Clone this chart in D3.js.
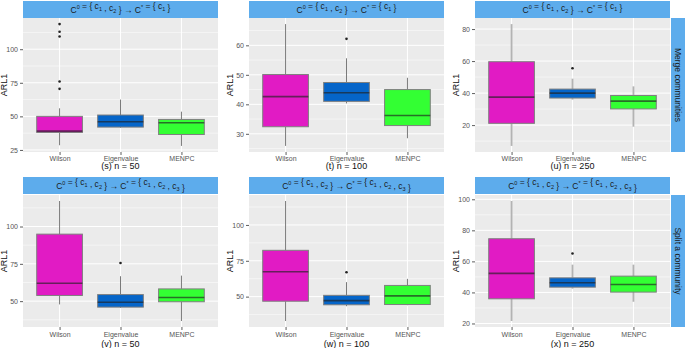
<!DOCTYPE html>
<html>
<head>
<meta charset="utf-8">
<title>ARL1 boxplots</title>
<script src="https://cdn.jsdelivr.net/npm/d3@7/dist/d3.min.js"></script>
<style>
  body { margin: 0; background: #fff; }
  svg text { font-family: "Liberation Sans", Arial, sans-serif; }
</style>
</head>
<body>
<svg id="chart"></svg>
<script>
// categories + labels
var methods = ['Wilson', 'Eigenvalue', 'MENPC'];
var panelLabels = ['(s) n = 50', '(t) n = 100', '(u) n = 250', '(v) n = 50', '(w) n = 100', '(x) n = 250'];
var rowLabels = ['Merge communities', 'Split a community'];
var targetSets = [['1'], ['1', '2', '3']];

// box stats per panel: [lower whisker, q1, median, q3, upper whisker]
var wilsonStats = [[28.5, 38, 39, 50, 56], [25.9, 32.4, 42.6, 50.1, 67.2], [7, 21.1, 37.5, 59.6, 83.1],
                   [47.8, 53.8, 62, 94.9, 117.1], [33, 46.8, 67.4, 82.3, 116.7], [21.6, 35.9, 52.3, 74.6, 98.9]];
var eigenStats = [[41.5, 42, 46, 51, 62.5], [40.3, 41, 43.9, 47.4, 55.6], [35.9, 36.9, 40, 42.5, 49],
                  [45.5, 46, 49.3, 54.4, 66.7], [43.3, 44.3, 47.2, 50.9, 60.1], [42.4, 43.4, 46.2, 49.4, 57.9]];
var menpcStats = [[28, 36.5, 45.2, 47.7, 53.5], [28.5, 32.8, 36.2, 45, 49], [19, 30.1, 35, 38.5, 44.2],
                  [36.7, 49.6, 52.4, 58.2, 67.1], [44, 44.5, 50.5, 57.8, 62.4], [34, 40.2, 45.1, 50.5, 57.9]];

// outliers per panel
var wilsonOutliers = [[118.7, 113, 109.5, 76, 70.5], [], [], [], [], []];
var eigenOutliers = [[], [62.2], [55.5], [75.6], [67], [65.1]];
var menpcOutliers = [[], [], [], [], [], []];

// y tick labels per panel
var yTicks = [[25, 50, 75, 100], [30, 40, 50, 60], [20, 40, 60, 80],
              [50, 75, 100], [50, 75, 100], [20, 40, 60, 80, 100]];

var colors = ['#e11bc4', '#0565c9', '#33ff33'];

var W = 685, H = 348;
var cols = [{ x0: 23, x1: 218 }, { x0: 249, x1: 444 }, { x0: 475, x1: 670 }];
var rows = [{ strip: 1, y0: 18, y1: 152, lab: 160.5, sub: 168.5 },
            { strip: 177, y0: 195, y1: 327, lab: 337, sub: 346.5 }];
var stripH = 17;

var svg = d3.select('#chart').attr('width', W).attr('height', H);

var allStats = [wilsonStats, eigenStats, menpcStats];
var allOut = [wilsonOutliers, eigenOutliers, menpcOutliers];

rows.forEach(function (row, ri) {
  cols.forEach(function (col, ci) {
    var p = ri * 3 + ci;
    var g = svg.append('g');

    var boxes = methods.map(function (m, mi) {
      var s = allStats[mi][p];
      return { m: m, i: mi, lw: s[0], q1: s[1], med: s[2], q3: s[3], uw: s[4], out: allOut[mi][p] };
    });

    // ggplot style 5% expansion
    var vals = [];
    boxes.forEach(function (b) { vals.push(b.lw, b.uw); vals = vals.concat(b.out); });
    var lo = d3.min(vals), hi = d3.max(vals), pad = (hi - lo) * 0.05;

    var y = d3.scaleLinear().domain([lo - pad, hi + pad]).range([row.y1, row.y0]);
    var x = d3.scalePoint().domain(methods).range([col.x0, col.x1]).padding(0.6);
    var bw = x.step() * 0.75;

    g.append('rect')
      .attr('x', col.x0).attr('y', row.y0)
      .attr('width', col.x1 - col.x0).attr('height', row.y1 - row.y0)
      .attr('fill', '#ebebeb');

    // minor grid
    var ticks = yTicks[p], step = ticks[1] - ticks[0];
    var minors = [];
    ticks.forEach(function (t) { minors.push(t - step / 2, t + step / 2); });
    minors = Array.from(new Set(minors)).filter(function (v) { return v > y.domain()[0] && v < y.domain()[1]; });
    g.selectAll('.minor').data(minors).enter().append('line')
      .attr('x1', col.x0).attr('x2', col.x1)
      .attr('y1', y).attr('y2', y)
      .attr('stroke', '#fff').attr('stroke-width', 0.5);

    g.selectAll('.major').data(ticks).enter().append('line')
      .attr('x1', col.x0).attr('x2', col.x1)
      .attr('y1', y).attr('y2', y)
      .attr('stroke', '#fff').attr('stroke-width', 1);

    g.selectAll('.vgrid').data(methods).enter().append('line')
      .attr('x1', x).attr('x2', x)
      .attr('y1', row.y0).attr('y2', row.y1)
      .attr('stroke', '#fff').attr('stroke-width', 1);

    // axes
    var yAxis = d3.axisLeft(y).tickValues(ticks).tickSize(3).tickPadding(2);
    var ya = g.append('g').attr('transform', 'translate(' + col.x0 + ',0)').call(yAxis);
    var xAxis = d3.axisBottom(x).tickSize(3).tickPadding(2);
    var xa = g.append('g').attr('transform', 'translate(0,' + row.y1 + ')').call(xAxis);
    [ya, xa].forEach(function (a) {
      a.select('.domain').remove();
      a.selectAll('.tick line').attr('stroke', '#333').attr('stroke-width', 0.8);
      a.selectAll('.tick text').attr('fill', '#555').attr('font-size', 7);
    });
    xa.selectAll('.tick text').attr('dy', null).attr('y', row.lab - row.y1);

    // boxes
    var wCol = ci === 2 ? '#b3b3b3' : '#7a7a7a';
    var wW = ci === 2 ? 1.8 : 1;
    var bg = g.selectAll('.box').data(boxes).enter().append('g');
    bg.append('line')
      .attr('x1', function (d) { return x(d.m); }).attr('x2', function (d) { return x(d.m); })
      .attr('y1', function (d) { return y(d.uw); }).attr('y2', function (d) { return y(d.q3); })
      .attr('stroke', wCol).attr('stroke-width', wW);
    bg.append('line')
      .attr('x1', function (d) { return x(d.m); }).attr('x2', function (d) { return x(d.m); })
      .attr('y1', function (d) { return y(d.q1); }).attr('y2', function (d) { return y(d.lw); })
      .attr('stroke', wCol).attr('stroke-width', wW);
    bg.append('rect')
      .attr('x', function (d) { return x(d.m) - bw / 2; })
      .attr('y', function (d) { return y(d.q3); })
      .attr('width', bw)
      .attr('height', function (d) { return y(d.q1) - y(d.q3); })
      .attr('fill', function (d) { return colors[d.i]; })
      .attr('stroke', '#7f7f7f').attr('stroke-width', 1);
    bg.append('line')
      .attr('x1', function (d) { return x(d.m) - bw / 2; })
      .attr('x2', function (d) { return x(d.m) + bw / 2; })
      .attr('y1', function (d) { return y(d.med); }).attr('y2', function (d) { return y(d.med); })
      .attr('stroke', '#222').attr('stroke-opacity', 0.65).attr('stroke-width', 1.6);
    bg.selectAll('circle').data(function (d) { return d.out.map(function (v) { return { m: d.m, v: v }; }); })
      .enter().append('circle')
      .attr('cx', function (d) { return x(d.m); })
      .attr('cy', function (d) { return y(d.v); })
      .attr('r', 1.3).attr('fill', '#222');

    // strip on top
    g.append('rect')
      .attr('x', col.x0).attr('y', row.strip)
      .attr('width', col.x1 - col.x0).attr('height', stripH)
      .attr('fill', '#5dacec');
    var st = g.append('text')
      .attr('x', (col.x0 + col.x1) / 2).attr('y', row.strip + stripH / 2 + 3)
      .attr('text-anchor', 'middle').attr('font-size', 8.5).attr('fill', '#1a1a1a');
    var sup = function (t) { st.append('tspan').attr('font-size', 5.5).attr('dy', -3.5).text(t); st.append('tspan').attr('dy', 3.5).text(''); };
    var sub = function (t) { st.append('tspan').attr('font-size', 5.5).attr('dy', 1.8).text(t); st.append('tspan').attr('dy', -1.8).text(''); };
    var txt = function (t) { st.append('tspan').text(t); };
    txt('C'); sup('0'); txt(' = { c'); sub('1'); txt(' , c'); sub('2'); txt(' } \u2192 C'); sup('*'); txt(' = { ');
    targetSets[ri].forEach(function (k, ki) {
      txt((ki ? ' , ' : '') + 'c'); sub(k);
    });
    txt(' }');

    // axis titles
    g.append('text')
      .attr('transform', 'translate(' + (col.x0 - 16) + ',' + ((row.y0 + row.y1) / 2) + ') rotate(-90)')
      .attr('text-anchor', 'middle').attr('font-size', 9).attr('fill', '#111')
      .text('ARL1');
    g.append('text')
      .attr('x', (col.x0 + col.x1) / 2).attr('y', row.sub)
      .attr('text-anchor', 'middle').attr('font-size', 9).attr('fill', '#111')
      .text(panelLabels[p]);
  });

  // right strip
  svg.append('rect')
    .attr('x', 671).attr('y', row.y0)
    .attr('width', 14).attr('height', row.y1 - row.y0)
    .attr('fill', '#5dacec');
  svg.append('text')
    .attr('transform', 'translate(675,' + ((row.y0 + row.y1) / 2) + ') rotate(90)')
    .attr('text-anchor', 'middle').attr('font-size', 8.5).attr('fill', '#1a1a1a')
    .text(rowLabels[ri]);
});
</script>
</body>
</html>
